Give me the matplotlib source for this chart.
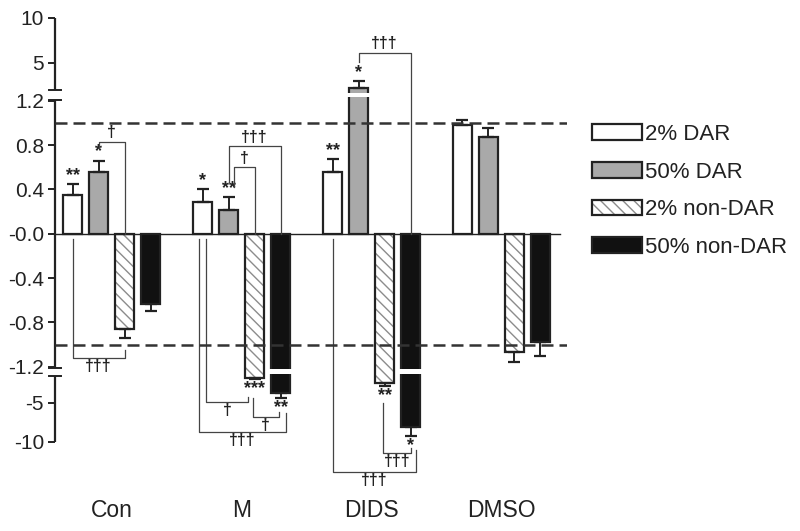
import numpy as np
import matplotlib
matplotlib.use('Agg')
import matplotlib.pyplot as plt

plt.rcParams['font.family'] = ['Liberation Sans', 'DejaVu Sans']

groups = ['Con', 'M', 'DIDS', 'DMSO']
labels = ['2% DAR', '50% DAR', '2% non-DAR', '50% non-DAR']

dar2 = [0.35, 0.29, 0.56, 0.98]
dar2_err = [0.10, 0.11, 0.11, 0.05]
dar50 = [0.56, 0.21, 2.22, 0.87]
dar50_err = [0.10, 0.12, 0.78, 0.08]
nondar2 = [-0.86, -1.83, -2.43, -1.07]
nondar2_err = [0.08, 0.10, 0.38, 0.09]
nondar50 = [-0.63, -3.71, -8.07, -0.98]
nondar50_err = [0.07, 0.64, 1.15, 0.12]

stars_dar2 = ['**', '*', '**', '']
stars_dar50 = ['*', '**', '*', '']
stars_nondar2 = ['', '***', '**', '']
stars_nondar50 = ['', '**', '*', '']

ytick_vals = [10, 5, 1.2, 0.8, 0.4, 0.0, -0.4, -0.8, -1.2, -5, -10]
ytick_text = ['10', '5', '1.2', '0.8', '0.4', '-0.0', '-0.4', '-0.8', '-1.2', '-5', '-10']

# group, bar a, shift a, start a, bar b, shift b, start b, level, label
brackets = [
    (0, 1, 0.0, 0.77, 2, 0.0, 0.0, 0.83, '†'),
    (0, 0, 0.0, -0.05, 2, 0.0, -1.05, -1.12, '†††'),
    (1, 1, 0.04, 0.42, 2, 0.0, 0.0, 0.60, '†'),
    (1, 1, 0.0, 0.47, 3, 0.0, 0.0, 0.79, '†††'),
    (1, 0, 0.03, -0.05, 2, -0.05, -4.22, -4.86, '†'),
    (1, 2, -0.015, -4.35, 3, -0.015, -6.15, -6.79, '†'),
    (1, 0, -0.03, -0.05, 3, 0.045, -6.28, -8.71, '†††'),
    (2, 1, 0.0, 5.11, 3, 0.0, 0.0, 6.11, '†††'),
    (2, 2, -0.01, -4.99, 3, 0.0, -10.76, -11.40, '†††'),
    (2, 0, 0.0, -0.05, 3, 0.04, -11.02, -13.84, '†††'),
]

# broken axis: linear core between -1.2 and 1.2, squeezed outer parts
knot_v = [-30, -1.3, -1.2, 1.2, 1.3, 30]
knot_f = [-140.2 - 28.7 * 7.8, -140.2, -133.0, 133.0, 137.7, 137.7 + 28.7 * 9.0]


def fwd(v):
    return np.interp(v, knot_v, knot_f)


def inv(f):
    return np.interp(f, knot_f, knot_v)


ink = '#222222'
fig = plt.figure(figsize=(8, 5.31), dpi=100)
ax = fig.add_axes([55 / 800, 36 / 531, 512 / 800, 490 / 531])
ax.set_yscale('function', functions=(fwd, inv))
ax.set_ylim(-16.8, 11.4)
ax.set_xlim(-0.435, 3.504)

x = np.arange(len(groups))
step = 0.2
width = 0.14
values = [dar2, dar50, nondar2, nondar50]
errs = [dar2_err, dar50_err, nondar2_err, nondar50_err]
stars = [stars_dar2, stars_dar50, stars_nondar2, stars_nondar50]
faces = ['white', '#a9a9a9', 'white', '#111111']

handles = []
for j in range(4):
    xs = x + (j - 1.5) * step
    v = np.array(values[j])
    e = np.array(errs[j])
    if j == 2:
        hb = ax.bar(xs, v, width, color='white', edgecolor='#8c8c8c', hatch='\\\\\\', linewidth=0, zorder=2)
        ob = ax.bar(xs, v, width, facecolor='none', edgecolor=ink, linewidth=1.6, zorder=3)
        handles.append((hb.patches[0], ob.patches[0]))
    else:
        b = ax.bar(xs, v, width, color=faces[j], edgecolor=ink, linewidth=1.6, zorder=3)
        handles.append(b.patches[0])
    lower = np.where(v < 0, e, 0)
    upper = np.where(v > 0, e, 0)
    ax.errorbar(xs, v, yerr=[lower, upper], fmt='none', ecolor=ink, elinewidth=1.4,
                capsize=4, capthick=1.6, zorder=4)
    for k in range(4):
        # white cut where a bar crosses the axis break
        if j in (1, 3) and v[k] > 1.3:
            ax.bar(xs[k], 0.32, width * 1.3, bottom=1.28, color='white', linewidth=0, zorder=3.5)
        if j in (1, 3) and v[k] < -1.3:
            ax.bar(xs[k], -0.07, width * 1.3, bottom=-1.23, color='white', linewidth=0, zorder=3.5)
        if stars[j][k]:
            up = v[k] > 0
            tip = v[k] + e[k] if up else v[k] - e[k]
            ax.annotate(stars[j][k], (xs[k], tip), xytext=(0, 0 if up else -1),
                        textcoords='offset points', ha='center',
                        va='bottom' if up else 'top', fontsize=13, fontweight='bold', color=ink)

ax.axhline(0, xmin=0, xmax=0.986, color=ink, lw=1.0, zorder=2.5)
for yl in (1, -1):
    ax.axhline(yl, color='#333333', lw=1.8, ls=(0, (4.8, 2.4)), zorder=5)

for g, a, da, ya, b, db, yb, level, lab in brackets:
    xa = g + (a - 1.5) * step + da
    xb = g + (b - 1.5) * step + db
    ax.plot([xa, xa, xb, xb], [ya, level, level, yb], color='#444444', lw=0.9, zorder=4)
    up = level > 0
    ax.annotate(lab, ((xa + xb) / 2, level), xytext=(0, 1 if up else -1),
                textcoords='offset points', ha='center', va='bottom' if up else 'top',
                fontsize=11.5, fontweight='bold', color=ink)

for s in ax.spines.values():
    s.set_visible(False)
tr = ax.get_yaxis_transform()
for top, bot in [(10, 2.0), (1.22, -1.215), (-1.53, -10)]:
    ax.plot([0, 0], [top, bot], transform=tr, color=ink, lw=1.6, clip_on=False,
            solid_capstyle='butt')
for yb in (2.0, 1.22, -1.215, -1.53):
    ax.plot([-0.012, 0.012], [yb, yb], transform=tr, color=ink, lw=1.4, clip_on=False)

ax.set_yticks(ytick_vals, ytick_text)
ax.minorticks_off()
ax.tick_params(axis='y', length=5, width=1.4, labelsize=15, pad=3, color=ink, labelcolor=ink)
ax.set_xticks(x, groups)
ax.tick_params(axis='x', length=0, labelsize=16.5, pad=3, labelcolor=ink)

fig.legend(handles, labels, loc='upper left', bbox_to_anchor=(592 / 800, 1 - 124 / 531),
           frameon=False, fontsize=16, handlelength=2.25, handleheight=0.72,
           handletextpad=0.14, labelspacing=0.75, borderpad=0, borderaxespad=0,
           labelcolor=ink)

fig.savefig('out.png', dpi=100)
